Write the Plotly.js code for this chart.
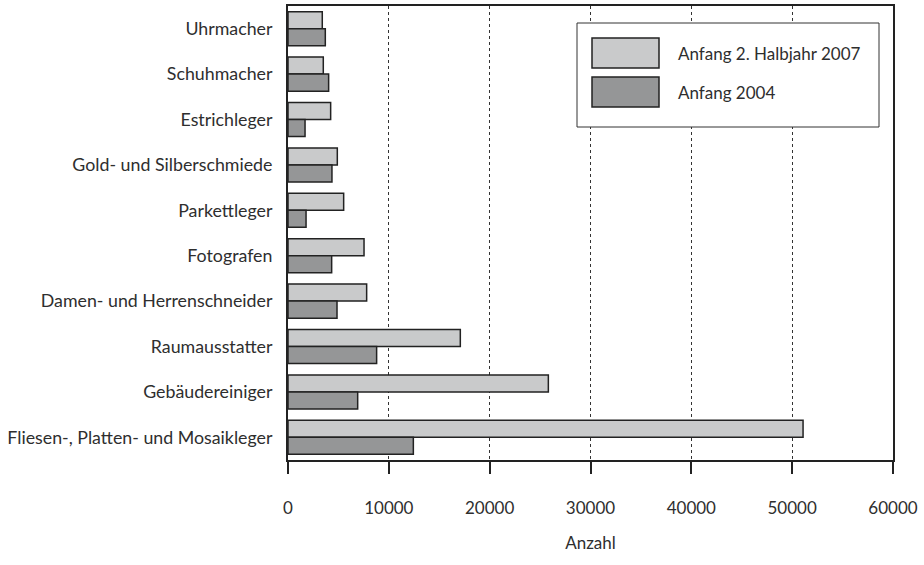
<!DOCTYPE html>
<html>
<head>
<meta charset="utf-8">
<script src="https://cdn.plot.ly/plotly-3.0.1.min.js"></script>
<style>html,body{margin:0;padding:0;background:#fff;}#chart{width:924px;height:565px;}</style>
</head>
<body>
<div id="chart"></div>
<script>
const categories = ["Uhrmacher","Schuhmacher","Estrichleger","Gold- und Silberschmiede","Parkettleger","Fotografen","Damen- und Herrenschneider","Raumausstatter","Gebäudereiniger","Fliesen-, Platten- und Mosaikleger"];
const seriesNames = ["Anfang 2. Halbjahr 2007","Anfang 2004"];
const seriesColors = ["#c9cacb", "#959697"];
const values2007 = [3400, 3500, 4230, 4890, 5520, 7540, 7800, 17090, 25820, 51080];
const values2004 = [3700, 4030, 1690, 4360, 1790, 4330, 4860, 8790, 6910, 12430];
const xTicks = [0, 10000, 20000, 30000, 40000, 50000, 60000];

const FAM = "Lato, sans-serif";
const font = {family: FAM, size: 17, color: "#2e2e2e"};
const traces = [
  {type: "bar", orientation: "h", name: seriesNames[0], y: categories, x: values2007,
   marker: {color: seriesColors[0], line: {color: "#222", width: 1.5}}},
  {type: "bar", orientation: "h", name: seriesNames[1], y: categories, x: values2004,
   marker: {color: seriesColors[1], line: {color: "#222", width: 1.5}}}
];

// legend built in paper coordinates (plot area: x 288..893 px, y 6..460 px)
const PX = px => (px - 288) / 605;
const PY = py => (460 - py) / 454;
const shapes = [
  {type: "rect", xref: "paper", yref: "paper", x0: PX(577), x1: PX(879), y0: PY(127), y1: PY(23),
   line: {color: "#333", width: 1}, fillcolor: "#fff", layer: "above"},
  {type: "rect", xref: "paper", yref: "paper", x0: PX(592), x1: PX(659), y0: PY(68), y1: PY(38),
   line: {color: "#222", width: 1.5}, fillcolor: seriesColors[0], layer: "above"},
  {type: "rect", xref: "paper", yref: "paper", x0: PX(592), x1: PX(659), y0: PY(107), y1: PY(77),
   line: {color: "#222", width: 1.5}, fillcolor: seriesColors[1], layer: "above"}
];
const annotations = [
  {xref: "paper", yref: "paper", x: PX(676), y: PY(53), xanchor: "left", yanchor: "middle",
   text: seriesNames[0], showarrow: false, font: font},
  {xref: "paper", yref: "paper", x: PX(676), y: PY(92), xanchor: "left", yanchor: "middle",
   text: seriesNames[1], showarrow: false, font: font}
];

const layout = {
  width: 924, height: 565,
  margin: {l: 288, r: 31, t: 6, b: 105},
  paper_bgcolor: "#fff", plot_bgcolor: "#fff",
  font: font,
  barmode: "group", bargap: 0.25, bargroupgap: 0,
  showlegend: false,
  shapes: shapes, annotations: annotations,
  xaxis: {range: [0, 60000], tickvals: xTicks, ticktext: xTicks.map(String),
          showgrid: true, gridcolor: "#333", griddash: "dot", gridwidth: 1.2,
          zeroline: false, showline: true, linecolor: "#222", linewidth: 2,
          mirror: true, ticks: "outside", ticklen: 12, tickwidth: 2, tickcolor: "#222",
          ticklabelstandoff: 20,
          title: {text: "Anzahl", standoff: 20, font: {family: FAM, size: 17, color: "#2e2e2e"}}},
  yaxis: {autorange: "reversed", type: "category",
          showline: true, linecolor: "#222", linewidth: 2, mirror: true,
          showgrid: false, zeroline: false, ticks: "", ticklabelstandoff: 10,
          tickfont: {family: FAM, size: 17.8, color: "#2e2e2e"}}
};
Plotly.newPlot("chart", traces, layout, {displayModeBar: false, staticPlot: true});
</script>
</body>
</html>
